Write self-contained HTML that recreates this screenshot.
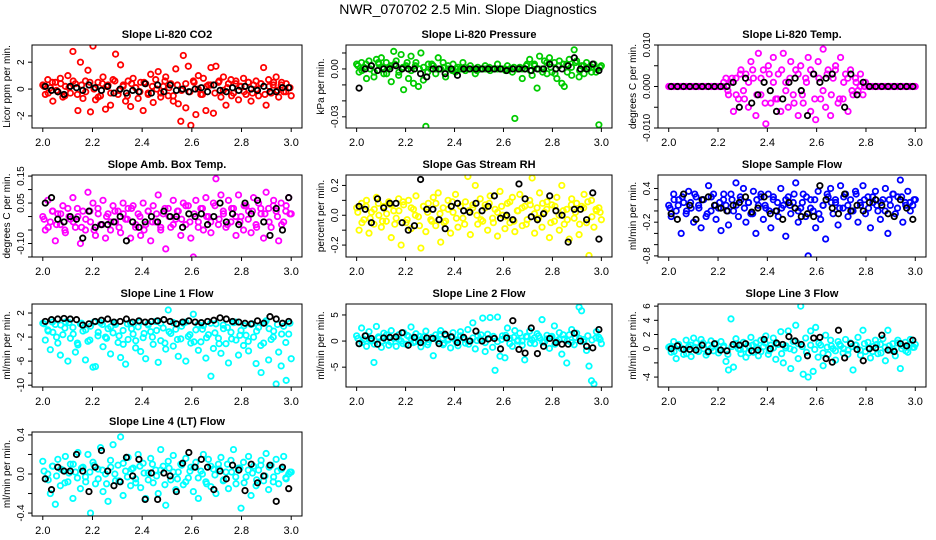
<!DOCTYPE html>
<html><head><meta charset="utf-8">
<style>
html,body{margin:0;padding:0;background:#fff;}
svg{display:block;font-family:"Liberation Sans",Arial,sans-serif;}
</style></head>
<body>
<svg id="chart" width="936" height="540" viewBox="0 0 936 540">
<text x="468" y="14" text-anchor="middle" font-size="14">NWR_070702  2.5 Min. Slope Diagnostics</text>
</svg>
<script>
// ---- data ----
const panelTitles = ["Slope Li-820 CO2","Slope Li-820 Pressure","Slope Li-820 Temp.","Slope Amb. Box Temp.","Slope Gas Stream RH","Slope Sample Flow","Slope Line 1 Flow","Slope Line 2 Flow","Slope Line 3 Flow","Slope Line 4 (LT) Flow"];
const yLabels = ["Licor ppm per min.","kPa per min.","degrees C per min.","degrees C per min.","percent per min.","ml/min per min.","ml/min per min.","ml/min per min.","ml/min per min.","ml/min per min."];
const xTicks = [2.0,2.2,2.4,2.6,2.8,3.0];
const xTickLabels = ["2.0","2.2","2.4","2.6","2.8","3.0"];
const yRanges = [[-2.9,3.28],[-0.037,0.015],[-0.01,0.01],[-0.15,0.154],[-0.28,0.27],[-0.82,0.64],[-10.3,3.5],[-8.8,7.1],[-5.4,6.3],[-0.43,0.43]];
const yTicks = [[-2,0,2],[-0.03,-0.02,-0.01,0,0.01],[-0.01,-0.005,0,0.005,0.01],[-0.15,-0.10,-0.05,0,0.05,0.10,0.15],[-0.2,-0.1,0,0.1,0.2],[-0.8,-0.6,-0.4,-0.2,0,0.2,0.4],[-10,-8,-6,-4,-2,0,2],[-5,0,5],[-4,-2,0,2,4,6],[-0.4,-0.2,0,0.2,0.4]];
const yTickLabels = [["-2","0","2"],["-0.03","","","0.00",""],["-0.010","","0.000","","0.010"],["","-0.10","","","0.05","","0.15"],["-0.2","","0.0","","0.2"],["-0.8","","","-0.2","","","0.4"],["-10","","-6","","-2","","2"],["-5","0","5"],["-4","","0","2","4","6"],["-0.4","","0.0","","0.4"]];
const seriesColors = ["#ff0000","#00cc00","#ff00ff","#ff00ff","#ffff00","#0000ff","#00ffff","#00ffff","#00ffff","#00ffff"];

const co2Values = [0.3,-0.4,0.7,0.1,-0.9,0.5,-0.2,0.8,-0.6,0.2,1.0,-0.3,2.8,0.4,-1.6,2.0,-0.7,0.6,1.4,-1.7,3.2,-0.8,0.5,-0.5,0.9,-1.5,0.3,-1.2,0.7,2.6,-0.4,1.8,0.2,-0.9,0.6,-1.3,0.8,0.1,-0.7,0.5,-1.6,0.4,-0.3,1.1,-1.0,0.7,1.3,-0.6,0.2,0.9,-0.5,0.4,-0.9,1.5,-1.1,-2.4,2.5,-1.4,1.7,-2.7,0.6,-1.9,1.0,-0.4,0.8,-1.6,0.3,1.6,-1.8,1.7,0.5,-0.6,0.9,-1.2,0.4,0.7,-0.3,0.6,-0.8,0.2,0.8,-0.4,0.5,-0.9,0.3,0.6,-0.5,0.4,1.6,-1.2,0.7,-0.3,0.5,0.9,-0.6,0.3,-0.2,0.4,0.1,-0.5];
const co2Core = [0.2,-0.3,0.5,-0.1,0.4,-0.5,0.1,0.6,-0.4,0.3,-0.2,0.5,0.0,-0.6,0.4,0.2,-0.3,0.6,-0.1,0.3,-0.5,0.4,0.1,-0.2,0.5,-0.4,0.2,0.0,-0.3,0.6,0.1,-0.5,0.3,-0.1,0.4,-0.2,0.5,0.0,-0.4,0.2,0.3,-0.3,0.6,-0.1,0.1,-0.5,0.4,0.2,-0.2,0.5,-0.3,0.0,0.4,-0.4,0.2,0.3,-0.1,0.5,-0.2,0.1];
const co2Black = [0.2,-0.1,-0.2,-0.4,0.2,0.1,-0.1,0.3,0.1,-0.1,0.2,-0.3,0.0,-0.3,-0.1,-0.2,0.4,-0.3,0.3,-0.2,0.3,-0.1,0.0,-0.2,0.0,0.1,-0.2,0.3,-0.1,-0.2,0.1,-0.1,0.2,0.0,-0.1,0.2,-0.2,-0.2,0.1,0.1];
const pressValues = [0.003,-0.002,0.004,0.001,-0.006,0.005,0.002,-0.005,0.006,0.003,0.007,-0.003,0.004,0.001,-0.008,0.011,0.005,-0.004,0.009,-0.013,0.002,-0.006,0.008,-0.009,0.004,-0.011,0.010,-0.007,-0.036,0.003,0,0.002,-0.003,0.007,0,0.004,-0.005,0.002,0,0.003,-0.002,0.001,0,0.004,-0.001,0,0.002,0,-0.003,0.001,0,0,0.002,0,-0.001,0,0,0.003,0,0,0,0.002,0,-0.002,-0.031,0,0.001,-0.006,0,0.003,0.006,-0.004,0.002,-0.012,0.008,0,0.005,-0.003,0.007,-0.002,0.004,-0.006,0.005,-0.009,-0.011,0.003,0.006,-0.004,0.012,0.005,-0.005,0.002,-0.003,0.004,0.001,-0.002,0.003,0,-0.035,0.002];
const pressCore = [0.002,-0.001,0.003,0,-0.002,0.004,0.001,-0.003,0.002,0.003,-0.002,0.001,0.004,-0.001,0.002,0,0.001,-0.002,0.003,0,0,0.001,0,-0.001,0,0,0.001,0,0,-0.001,0,0,0.001,0,0,0,-0.001,0,0.001,0,0,0.002,-0.001,0.003,0,-0.002,0.004,0.001,-0.003,0.002,0.003,-0.002,0.001,0.004,-0.001,0.002,0,0.001,-0.002,0.001];
const pressBlack = [-0.012,0,0.002,-0.001,0,0,0.002,0,0,0,-0.003,-0.005,0,0,-0.003,0,-0.004,0,0,0,0,0,0,0,-0.001,0,0,0,-0.001,0,0,0.003,0,0,0.002,0.007,0,0,0.003,-0.001];
const tempValues = [0,0,0,0,0,0,0,0,0,0,0,0,0,0,0,0,0,0,0,0,0,0,0,0.002,-0.002,0.001,-0.006,0.002,-0.003,0.004,-0.001,0.003,-0.005,0.006,0.002,-0.007,0.008,-0.002,0.004,-0.009,0.005,-0.004,0.007,-0.003,0.003,-0.006,0.008,0.001,-0.005,0.006,-0.002,0.004,-0.007,0.005,-0.004,0.002,0.007,-0.006,0.003,-0.008,0.006,-0.003,0.009,-0.005,0.004,-0.007,0.002,0.005,-0.004,0.007,-0.003,0.003,-0.006,0.004,-0.002,0.002,-0.001,0.003,-0.002,0.001,0,0,0,0,0,0,0,0,0,0,0,0,0,0,0,0,0,0,0,0];
const tempCore = [0,0,0,0,0,0,0,0,0,0,0,0,0,0.001,-0.001,0.002,-0.002,0.003,-0.003,0.001,0.004,-0.002,0.002,-0.004,0.003,0.001,-0.003,0.004,-0.001,0.002,-0.004,0.003,-0.002,0.001,0.004,-0.003,0.002,-0.001,0.003,-0.002,0.004,-0.003,0.001,0.002,-0.001,0.001,0,0,0,0,0,0,0,0,0,0,0,0,0,0];
const tempBlack = [0,0,0,0,0,0,0,0,0,0,0.001,-0.005,0.002,-0.004,-0.002,0.001,-0.001,-0.006,-0.003,0.001,0.002,-0.001,-0.007,0.003,0.001,0.002,0.003,-0.011,-0.005,0.003,-0.002,0.001,0,0,0,0,0,0,0,0];
const boxValues = [0.00,-0.05,0.06,-0.02,0.02,-0.09,0.01,-0.03,0.04,-0.06,0.03,-0.01,0.07,-0.04,0.00,-0.10,0.02,-0.05,0.09,-0.02,0.05,-0.07,0.03,-0.03,0.06,-0.08,0.01,-0.05,0.04,-0.02,0.02,-0.06,0.05,-0.01,0.03,-0.08,0.04,-0.04,0.01,-0.07,0.05,-0.03,0.02,-0.09,0.04,-0.02,0.08,-0.05,0.01,-0.12,0.03,-0.04,0.06,-0.01,0.02,-0.07,0.05,-0.03,0.04,-0.08,-0.15,0.06,-0.02,0.03,-0.05,0.07,0.00,-0.06,0.05,0.14,-0.03,0.08,0.01,-0.04,0.06,-0.02,0.03,-0.07,0.08,0.00,-0.05,0.04,0.02,-0.06,0.07,-0.03,0.05,0.01,-0.08,0.09,0.03,-0.04,0.06,0.02,-0.09,0.05,-0.02,0.04,0.07,0.01];
const boxCore = [-0.01,-0.04,0.02,-0.03,0.01,-0.05,0.00,-0.02,0.03,-0.04,-0.01,0.02,-0.05,0.01,-0.03,0.00,-0.02,0.02,-0.04,0.01,-0.01,0.03,-0.03,0.00,-0.05,0.02,-0.02,0.01,-0.04,0.03,0.00,-0.03,0.02,-0.01,0.04,-0.02,0.01,-0.04,0.03,0.00,-0.02,0.04,-0.01,0.02,-0.03,0.03,0.00,-0.02,0.04,-0.01,0.02,-0.04,0.03,0.01,-0.02,0.04,0.00,-0.03,0.02,0.01];
const boxBlack = [0.05,0.07,-0.01,-0.02,0.00,-0.01,-0.08,0.02,-0.04,-0.03,-0.03,-0.02,0.00,-0.09,-0.02,-0.04,-0.02,0.00,-0.02,0.02,0.00,0.00,-0.04,0.01,0.00,0.01,-0.03,0.00,0.05,-0.02,0.01,-0.03,0.05,0.01,0.06,-0.02,-0.07,0.03,-0.05,0.07];
const rhValues = [0.05,-0.10,0.08,-0.03,0.10,-0.12,0.02,-0.06,0.12,0.00,-0.08,0.06,-0.04,0.09,-0.15,0.03,-0.02,0.11,-0.20,0.07,-0.05,0.10,-0.09,0.04,0.13,-0.01,-0.22,0.06,-0.11,0.08,-0.03,0.12,-0.07,0.15,-0.18,0.05,-0.04,0.10,-0.12,0.02,0.14,-0.08,0.06,-0.02,0.09,0.26,-0.13,0.05,0.20,-0.06,0.11,-0.04,0.07,-0.10,0.13,-0.02,0.04,-0.14,0.16,0.00,-0.09,0.08,-0.05,0.12,-0.11,0.03,0.14,-0.07,0.06,-0.03,0.10,0.25,-0.12,0.05,0.15,-0.08,0.02,0.09,-0.15,0.07,-0.04,0.12,-0.10,0.20,-0.06,0.04,-0.16,0.11,-0.02,0.08,-0.13,0.06,0.14,-0.05,-0.27,0.10,-0.08,0.03,0.05,-0.03];
const rhCore = [0.02,-0.05,0.06,-0.02,0.04,0.08,-0.04,0.01,0.07,-0.06,0.03,0.09,-0.03,0.05,0.00,-0.07,0.06,0.02,-0.04,0.08,0.01,-0.05,0.04,0.09,-0.02,0.06,-0.06,0.03,0.07,0.00,-0.03,0.05,0.08,-0.05,0.02,0.06,-0.01,0.09,-0.04,0.03,0.05,-0.06,0.07,0.01,-0.02,0.08,0.04,-0.05,0.06,0.00,0.03,-0.03,0.07,0.02,-0.06,0.05,0.09,-0.01,0.04,0.02];
const rhBlack = [0.06,0.04,-0.05,0.11,0.05,0.08,0.08,-0.05,-0.10,-0.07,0.24,0.04,0.04,-0.03,-0.09,0.06,0.08,0.03,0.02,0.08,0.03,0.06,0.13,-0.02,0.00,-0.03,0.21,0.11,-0.01,-0.03,0.01,0.13,0.03,0.00,-0.18,0.04,0.04,-0.03,0.15,-0.16];
const sampleValues = [0.1,-0.1,0.3,0.0,0.2,-0.4,0.15,-0.05,0.35,0.05,-0.2,0.25,0.1,-0.3,0.2,-0.1,0.45,0.0,0.3,-0.15,0.05,-0.35,0.2,0.1,-0.25,0.3,0.0,0.5,-0.1,0.2,0.4,-0.2,0.15,-0.05,0.35,-0.4,0.1,0.25,-0.15,0.05,0.3,-0.3,0.2,0.0,-0.1,0.4,0.1,-0.45,0.25,-0.05,0.15,0.5,-0.2,0.05,0.3,-0.1,-0.8,0.2,0.0,-0.3,0.35,-0.15,0.1,-0.5,0.25,0.4,-0.05,0.15,-0.25,0.45,0.05,0.3,-0.1,0.2,0.0,0.35,-0.2,0.1,0.45,-0.05,0.25,-0.3,0.15,0.35,0.0,-0.15,0.2,0.4,-0.4,0.1,0.3,-0.05,0.25,0.55,-0.2,0.15,0.35,0.0,0.1,0.2];
const sampleCore = [0.05,0.2,0.1,0.25,0.0,0.15,0.3,0.05,0.2,-0.05,0.25,0.1,0.15,0.3,0.0,0.2,0.1,0.25,0.05,0.15,-0.05,0.2,0.3,0.1,0.0,0.25,0.15,0.05,0.2,0.1,0.3,0.0,0.15,0.25,0.05,0.2,-0.05,0.1,0.3,0.15,0.2,0.05,0.25,0.1,0.0,0.3,0.15,0.2,0.05,0.25,0.1,0.15,0.0,0.2,0.3,0.05,0.25,0.1,0.15,0.2];
const sampleBlack = [-0.05,-0.15,0.3,0.1,-0.15,0.2,0.25,0.1,0.05,0.0,0.1,0.15,0.25,-0.02,0.05,0.25,-0.05,0.0,-0.15,0.15,0.05,-0.1,-0.05,-0.1,0.45,0.2,0.05,-0.05,0.3,0.0,0.1,0.0,0.15,0.2,0.1,-0.05,-0.1,0.2,0.05,-0.15];
const line1Values = [0.3,-2.5,-0.8,-4.1,-1.2,0.1,-3.0,-5.0,-1.6,0.5,-6.0,-2.2,-0.4,-4.5,-3.3,0.2,-1.0,-5.8,-2.7,-0.2,-7.0,-6.9,-1.8,0.4,-3.6,-2.0,-0.6,-4.8,-1.3,0.1,-2.9,-5.4,-0.9,-6.5,-2.4,0.3,-1.5,-3.8,-0.3,-4.4,-2.1,-5.6,0.2,-1.1,-3.2,0.6,-6.2,-2.6,-0.5,-4.0,2.5,-1.4,-3.5,-0.7,-5.2,-2.3,0.3,-6.0,-1.9,-3.0,1.8,-0.8,-4.2,-2.8,-0.1,-5.5,-1.6,-8.5,-3.9,0.2,-2.2,-4.7,-0.6,-3.1,-6.3,-1.2,0.4,-2.5,-5.0,-0.9,-3.4,-1.7,-4.3,0.1,-2.0,-6.4,-0.4,-7.9,-3.0,0.7,-5.8,-2.4,-1.0,-9.8,-4.5,-6.8,-0.2,-9.2,-1.5,-5.6];
const line1Core = [0.2,-1.0,0.5,-2.0,0.0,-0.5,0.4,-1.5,-3.0,0.3,-0.8,-2.5,0.5,-1.2,0.1,-2.2,-0.3,0.4,-1.8,-3.2,0.2,-0.6,-2.6,0.5,-1.4,0.0,-2.0,-0.9,0.3,-3.0,-1.1,0.4,-2.4,-0.2,0.5,-1.6,-2.8,0.1,-0.7,-2.1,0.3,-1.3,-3.1,0.0,-0.4,-2.3,0.5,-1.7,-0.1,-2.7,0.2,-1.0,-3.4,0.4,-0.6,-2.0,0.1,-1.5,-2.9,0.3];
const line1Black = [0.6,0.9,1.0,1.1,1.0,0.9,0.0,0.2,0.6,0.8,1.0,0.5,0.6,1.0,0.5,0.7,0.5,0.6,0.7,0.9,0.6,0.2,0.5,0.7,0.5,0.4,0.6,0.8,1.2,1.0,0.6,0.5,0.3,0.2,0.7,0.3,1.4,1.0,0.3,0.6];
const line2Values = [1.0,-0.5,2.5,0.3,-1.0,1.8,0.0,-4.1,2.8,0.6,-1.2,1.5,0.2,-0.8,2.0,0.5,-1.0,1.2,0.0,1.6,-0.6,0.9,2.7,-0.3,1.4,0.2,-1.1,0.8,1.9,-0.2,0.5,-2.8,1.2,0.0,2.0,-0.7,1.0,0.4,-1.3,1.6,0.2,-0.9,1.8,0.6,-0.4,2.2,0.0,3.5,-1.5,1.0,0.4,4.4,-2.0,1.3,4.5,-1.2,-5.6,4.6,-2.9,1.0,-3.2,2.5,0.5,-1.0,2.0,0.0,1.5,-0.8,-3.6,0.8,1.9,0.2,-0.5,1.4,0.6,4.1,-0.2,1.1,-1.4,0.9,2.9,0.0,1.6,-2.5,0.4,-4.2,1.2,2.2,-0.7,1.5,6.5,5.8,0.3,-1.8,-4.8,-7.6,-8.2,1.8,0.7,-0.5];
const line2Core = [0.5,-0.3,1.0,0.2,-0.6,0.8,0.0,1.2,-0.2,0.6,0.3,-0.5,1.1,0.4,-0.1,0.9,0.1,-0.7,0.7,0.5,1.3,-0.4,0.2,0.8,-0.2,1.0,0.4,-0.6,0.6,0.1,1.2,-0.3,0.5,0.9,-0.1,0.3,1.1,-0.5,0.7,0.2,0.0,0.9,-0.4,0.6,1.0,-0.2,0.4,0.8,-0.6,0.3,1.2,0.1,-0.3,0.7,0.5,-0.1,1.0,0.2,0.6,0.3];
const line2Black = [-0.5,1.0,0.5,-0.6,0.6,0.7,0.8,1.6,-0.8,0.7,-0.3,0.6,0.5,-0.5,1.3,0.8,-0.3,0.7,0.0,1.9,0.0,0.4,0.5,-1.5,0.6,3.9,-1.6,-2.3,2.5,-2.4,-1.0,0.5,-0.3,-0.6,-0.6,1.5,0.0,-1.0,-1.3,2.2];
const line3Values = [0.2,-0.5,1.0,-1.4,0.6,0.0,-0.8,1.2,0.3,-1.1,1.5,0.8,-0.4,1.3,0.0,-0.9,0.5,1.1,-0.3,0.7,-0.6,1.0,0.2,-1.8,-3.0,4.2,-2.6,1.4,0.0,-0.7,0.9,-1.2,0.4,1.6,-0.5,0.8,-1.0,1.2,0.3,1.8,-0.8,0.5,1.5,-1.5,0.6,2.4,-2.0,0.1,2.5,-2.8,1.0,3.3,-1.4,6.0,-3.6,1.5,-4.0,2.5,-3.2,3.0,-1.2,0.5,-2.4,1.9,-0.8,1.2,0.0,-1.6,1.0,0.4,-0.6,1.3,-0.2,0.8,-3.0,0.5,1.6,-0.9,2.6,-0.4,0.9,-1.3,0.3,1.2,-0.7,0.6,1.4,-1.7,2.6,-0.2,0.7,-1.0,1.2,-2.8,0.4,0.9,-0.5,1.3,0.2,0.6];
const line3Core = [0.3,-0.4,0.6,0.0,-0.7,0.5,0.2,-0.3,0.8,-0.5,0.1,0.6,-0.2,0.4,-0.8,0.3,0.7,-0.1,0.0,-0.6,0.5,0.2,-0.4,0.8,-0.3,0.1,0.6,-0.7,0.4,0.0,-0.2,0.7,0.3,-0.5,0.5,-0.1,0.8,-0.6,0.2,0.4,-0.3,0.6,0.0,-0.8,0.3,0.5,-0.2,0.7,0.1,-0.4,0.6,-0.6,0.2,0.4,-0.1,0.8,0.0,-0.3,0.5,0.2];
const line3Black = [0.0,0.4,-0.1,-0.1,-0.2,0.5,-0.4,0.7,-0.2,-0.3,0.6,0.5,0.7,-0.3,-0.2,1.3,0.0,0.8,0.6,1.7,1.1,0.6,-1.0,1.5,1.6,-1.4,-1.9,2.6,-1.3,0.7,-0.1,-1.7,0.0,0.1,1.9,-0.2,-0.4,0.7,0.4,1.2];
const line4Values = [0.13,-0.05,0.0,-0.20,0.08,-0.31,0.15,-0.12,0.04,0.18,-0.08,0.10,-0.25,0.02,0.22,-0.15,0.07,-0.03,0.20,-0.40,0.12,-0.10,0.05,0.27,-0.18,0.00,-0.28,0.14,0.30,-0.07,0.09,0.38,-0.22,0.03,0.17,-0.12,0.06,-0.05,0.20,-0.14,0.11,-0.25,0.01,0.16,-0.09,0.04,-0.20,0.25,0.08,-0.32,0.13,-0.06,0.19,-0.16,0.02,0.10,-0.11,0.16,-0.04,0.07,-0.18,0.12,-0.25,0.03,0.20,-0.08,0.15,-0.13,0.05,-0.20,0.10,0.17,-0.06,0.02,-0.15,0.14,0.25,-0.10,0.06,-0.35,0.12,-0.03,0.18,-0.22,0.08,-0.12,0.04,0.14,-0.07,0.21,-0.16,0.09,-0.03,0.15,-0.10,0.05,0.18,-0.05,0.00,0.02];
const line4Core = [0.03,-0.06,0.08,-0.02,0.05,-0.09,0.01,0.10,-0.04,0.06,-0.08,0.02,0.09,-0.05,0.04,-0.10,0.07,0.00,-0.07,0.11,-0.03,0.05,-0.09,0.08,0.01,-0.06,0.10,-0.02,0.04,-0.11,0.06,0.02,-0.05,0.09,-0.08,0.03,0.07,-0.04,0.00,-0.10,0.08,-0.01,0.05,-0.07,0.10,0.02,-0.03,0.06,-0.09,0.04,0.01,-0.06,0.09,-0.02,0.07,-0.08,0.03,0.05,-0.04,0.02];
const line4Black = [-0.05,-0.16,0.07,0.03,0.03,0.20,0.03,-0.18,0.07,0.24,0.03,-0.12,-0.08,0.17,-0.02,0.15,-0.26,0.01,-0.26,0.01,-0.02,-0.18,0.11,0.22,0.07,0.15,0.07,-0.16,0.03,-0.05,0.09,0.04,-0.17,0.10,-0.09,-0.02,0.09,-0.28,0.07,-0.15];

const colorSeries = [co2Values,pressValues,tempValues,boxValues,rhValues,sampleValues,line1Values,line2Values,line3Values,line4Values];
const coreSeries = [co2Core,pressCore,tempCore,boxCore,rhCore,sampleCore,line1Core,line2Core,line3Core,line4Core];
const blackSeries = [co2Black,pressBlack,tempBlack,boxBlack,rhBlack,sampleBlack,line1Black,line2Black,line3Black,line4Black];

// ---- layout ----
const colBoxes = [[32,302],[346,612],[658,926]];
const rowBoxes = [[45,128],[175,257],[304,387],[432,516]];
const NS = "http://www.w3.org/2000/svg";
const svg = document.getElementById("chart");
function mk(tag, attrs, parent){ const e=document.createElementNS(NS,tag); for(const k in attrs) e.setAttribute(k,attrs[k]); (parent||svg).appendChild(e); return e; }
const defs = mk("defs",{});

for(let p=0;p<10;p++){
  const col=p%3, row=Math.floor(p/3);
  const [L,R]=colBoxes[col], [T,B]=rowBoxes[row];
  const pad=(R-L)*0.04;
  const xScale=v=>L+pad+(v-2.0)/(1.0)*(R-L-2*pad);
  const [y0,y1]=yRanges[p];
  const yScale=v=>B-(v-y0)/(y1-y0)*(B-T);
  const cp=mk("clipPath",{id:"clip"+p},defs);
  mk("rect",{x:L,y:T,width:R-L,height:B-T},cp);
  const g=mk("g",{});
  
  
  const t=mk("text",{x:(L+R)/2,y:T-7,"text-anchor":"middle","font-size":"11","font-weight":"bold"},g);
  t.textContent=panelTitles[p];
  
  
  const pts=mk("g",{"clip-path":`url(#clip${p})`},g);
  
  
  const cs=colorSeries[p];
  cs.forEach((v,i)=>{
    const c=mk("circle",{cx:xScale(2+i/(cs.length-1)),cy:yScale(v),r:2.7,fill:"none",stroke:seriesColors[p],"stroke-width":1.8},pts);
    
    
  });
  const cc=coreSeries[p];
  cc.forEach((v,i)=>{
    const c=mk("circle",{cx:xScale(2.005+0.99*i/(cc.length-1)),cy:yScale(v),r:2.7,fill:"none",stroke:seriesColors[p],"stroke-width":1.8},pts);
    
    
  });
  const bs=blackSeries[p];
  bs.forEach((v,i)=>{
    const c=mk("circle",{cx:xScale(2.01+0.98*i/(bs.length-1)),cy:yScale(v),r:2.7,fill:"none",stroke:"#000","stroke-width":1.8},pts);
    
    
  });
  const box=mk("rect",{x:L,y:T,width:R-L,height:B-T,fill:"none",stroke:"#000","stroke-width":1},g);
  
  
  xTicks.forEach((v,i)=>{
    const x=xScale(v);
    mk("line",{x1:x,x2:x,y1:B,y2:B+4,stroke:"#000"},g);
    const lb=mk("text",{x:x,y:B+18,"text-anchor":"middle","font-size":"11"},g);
    lb.textContent=xTickLabels[i];
    
    
  });
  yTicks[p].forEach((v,i)=>{
    const y=yScale(v);
    mk("line",{x1:L-4,x2:L,y1:y,y2:y,stroke:"#000"},g);
    if(yTickLabels[p][i]){
      const lb=mk("text",{x:0,y:0,"text-anchor":"middle","font-size":"10",transform:`translate(${L-8},${y}) rotate(-90)`},g);
      lb.textContent=yTickLabels[p][i];
      
      
    }
  });
  const yl=mk("text",{x:0,y:0,"text-anchor":"middle","font-size":"10",transform:`translate(${L-22},${(T+B)/2}) rotate(-90)`},g);
  yl.textContent=yLabels[p];
  
  
}
</script>
</body></html>
